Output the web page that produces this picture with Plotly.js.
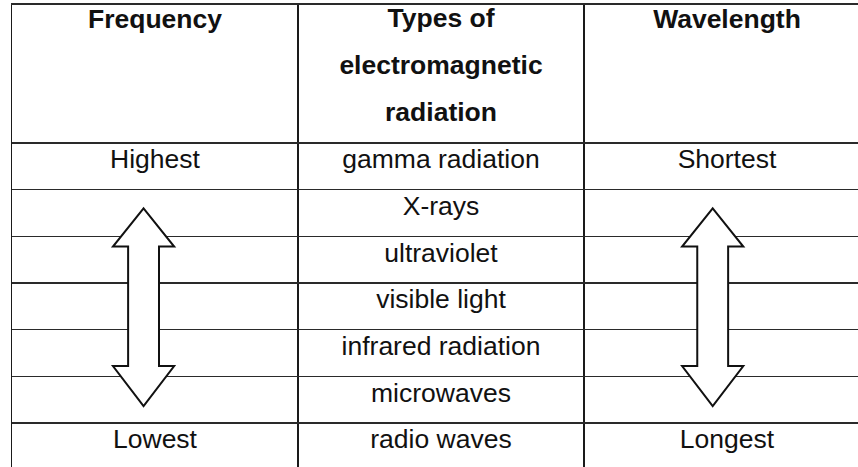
<!DOCTYPE html>
<html>
<head>
<meta charset="utf-8">
<script src="https://cdn.plot.ly/plotly-3.0.1.min.js"></script>
<style>html,body{margin:0;padding:0;background:#fff;overflow:hidden}</style>
</head>
<body>
<div id="chart" style="width:858px;height:467px"></div>
<script>
// ---- data ----
const columnHeaders = [["Frequency"], ["Types of", "electromagnetic", "radiation"], ["Wavelength"]];
const radiationTypes = ["gamma radiation", "X-rays", "ultraviolet", "visible light", "infrared radiation", "microwaves", "radio waves"];
const frequencyLabels = ["Highest", "", "", "", "", "", "Lowest"];
const wavelengthLabels = ["Shortest", "", "", "", "", "", "Longest"];

// ---- layout constants ----
const W = 858, H = 467;
const LEFT_PX = 12, COL_PX = 286;          // column width in pixels
const ROW_PX = 46.67, HEADER_BOTTOM_PX = 143, TOP_PX = 4.5;
const FONT = 'Liberation Sans, Arial, Helvetica, sans-serif';
const GLYPH = 26.5, HEADER_LINE = 36, HEADER_BASELINE_PX = 27.5;
const INK = '#111';

const toRow = px => (px - HEADER_BOTTOM_PX) / ROW_PX;

const bodyColumns = [frequencyLabels, radiationTypes, wavelengthLabels];
const textY = radiationTypes.map((_, i) => i + 0.4);

const traces = bodyColumns.map((labels, c) => ({
  type: 'scatter', mode: 'text',
  x: labels.map(() => c + 0.5), y: textY, text: labels,
  textposition: 'middle center',
  textfont: {family: FONT, size: GLYPH, color: INK},
  cliponaxis: false, hoverinfo: 'skip', showlegend: false
}));

// header: place each header so that its first line sits at the same baseline
const headerY = columnHeaders.map(lines => {
  const n = (lines.length - 1) * 1.3 + 1;
  const dy = 0.75 * HEADER_LINE - n * HEADER_LINE / 2;
  return toRow(HEADER_BASELINE_PX - dy);
});
traces.push({
  type: 'scatter', mode: 'text',
  x: columnHeaders.map((_, c) => c + 0.5),
  y: headerY,
  text: columnHeaders.map(lines => lines.map(l => `<span style="font-size:${GLYPH}px"><b>${l}</b></span>`).join('<br>')),
  textposition: 'middle center',
  textfont: {family: FONT, size: HEADER_LINE, color: INK},
  cliponaxis: false, hoverinfo: 'skip', showlegend: false
});

// double-headed arrows (in column / row units)
const arrowCenters = [0.46, 2.45];
const A = {tipTop: 1.4, headTop: 2.22, headBottom: 4.78, tipBottom: 5.64, headHalf: 0.107, shaftHalf: 0.054};
const shapes = arrowCenters.map(cx => {
  const hh = A.headHalf, sh = A.shaftHalf;
  const pts = [
    [cx, A.tipTop], [cx + hh, A.headTop], [cx + sh, A.headTop], [cx + sh, A.headBottom],
    [cx + hh, A.headBottom], [cx, A.tipBottom], [cx - hh, A.headBottom], [cx - sh, A.headBottom],
    [cx - sh, A.headTop], [cx - hh, A.headTop]
  ];
  return {
    type: 'path', xref: 'x', yref: 'y', layer: 'above',
    path: 'M ' + pts.map(p => p[0] + ',' + p[1]).join(' L ') + ' Z',
    fillcolor: '#ffffff', line: {color: INK, width: 2}
  };
});

const rowLines = [];
for (let i = 0; i <= radiationTypes.length; i++) rowLines.push(i);

const layout = {
  width: W, height: H,
  margin: {l: LEFT_PX, r: 0, t: 0, b: 0, pad: 0},
  paper_bgcolor: '#ffffff', plot_bgcolor: '#ffffff',
  showlegend: false, hovermode: false,
  font: {family: FONT, color: INK},
  xaxis: {
    range: [0, (W - LEFT_PX) / COL_PX],
    tickmode: 'array', tickvals: [0, 1, 2, 3],
    showgrid: true, gridcolor: '#1a1a1a', gridwidth: 1.3,
    showticklabels: false, ticks: '', zeroline: false,
    showline: true, side: 'top', linecolor: '#2a2a2a', linewidth: 1.6,
    fixedrange: true
  },
  yaxis: {
    domain: [0, 1 - TOP_PX / H],
    range: [toRow(H), toRow(TOP_PX)],
    tickmode: 'array', tickvals: rowLines,
    showgrid: true, gridcolor: '#2a2a2a', gridwidth: 1.6,
    showticklabels: false, ticks: '', zeroline: false,
    showline: true, linecolor: '#1a1a1a', linewidth: 1.3,
    fixedrange: true
  },
  shapes: shapes
};

Plotly.newPlot('chart', traces, layout, {staticPlot: true, displayModeBar: false});
</script>
</body>
</html>
